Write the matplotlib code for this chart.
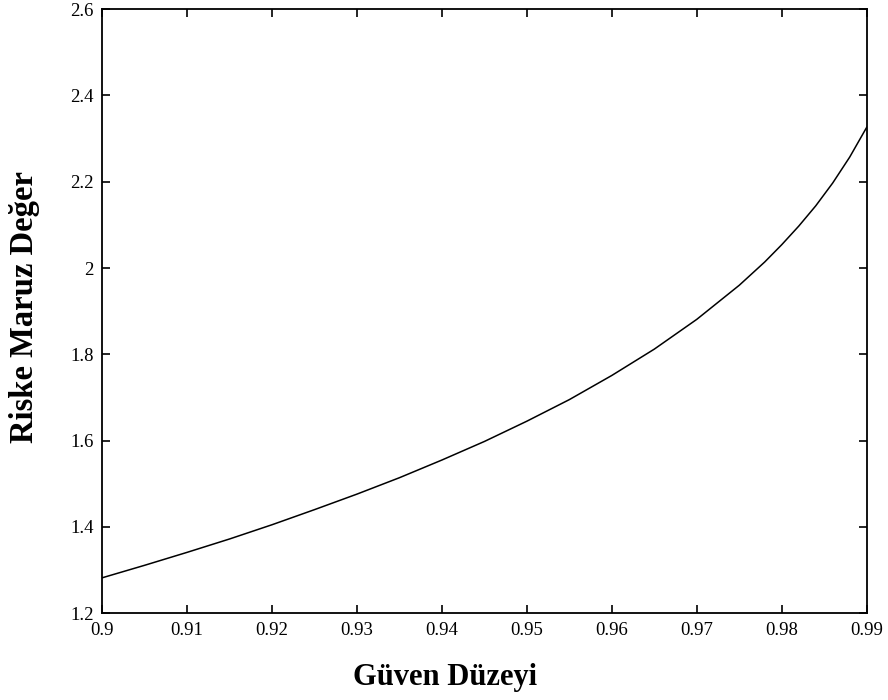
import matplotlib
matplotlib.use("Agg")
import matplotlib.pyplot as plt

# values
guven = [0.900, 0.905, 0.910, 0.915, 0.920, 0.925, 0.930, 0.935, 0.940, 0.945,
         0.950, 0.955, 0.960, 0.965, 0.970, 0.975, 0.978, 0.980, 0.982, 0.984,
         0.986, 0.988, 0.990]
riske = [1.282, 1.311, 1.341, 1.372, 1.405, 1.440, 1.476, 1.514, 1.555, 1.598,
         1.645, 1.695, 1.751, 1.812, 1.881, 1.960, 2.014, 2.054, 2.097, 2.144,
         2.197, 2.257, 2.326]
xticks = [0.9, 0.91, 0.92, 0.93, 0.94, 0.95, 0.96, 0.97, 0.98, 0.99]
yticks = [1.2, 1.4, 1.6, 1.8, 2.0, 2.2, 2.4, 2.6]
xticklabels = ["0.9", "0.91", "0.92", "0.93", "0.94", "0.95", "0.96", "0.97", "0.98", "0.99"]
yticklabels = ["1.2", "1.4", "1.6", "1.8", "2", "2.2", "2.4", "2.6"]

plt.rcParams['font.family'] = ['Liberation Serif', 'DejaVu Serif']

fig = plt.figure(figsize=(8.88, 7.0), dpi=100)
ax = fig.add_axes([0.115, 0.124, 0.861, 0.863])
ax.plot(guven, riske, color='black', linewidth=1.1)
ax.set_xlim(0.9, 0.99)
ax.set_ylim(1.2, 2.6)
ax.set_xticks(xticks)
ax.set_xticklabels(xticklabels)
ax.set_yticks(yticks)
ax.set_yticklabels(yticklabels)
ax.tick_params(direction='in', length=6, width=1.2, top=True, right=True,
               labelsize=13.5, pad=6)
for s in ax.spines.values():
    s.set_linewidth(1.3)
ax.set_xlabel("Güven Düzeyi", fontsize=22, fontweight='bold')
ax.set_ylabel("Riske Maruz Değer", fontsize=23.5, fontweight='bold')
ax.xaxis.set_label_coords(0.448, -0.083)
ax.yaxis.set_label_coords(-0.081, 0.507)
fig.savefig("out.png", dpi=100)
